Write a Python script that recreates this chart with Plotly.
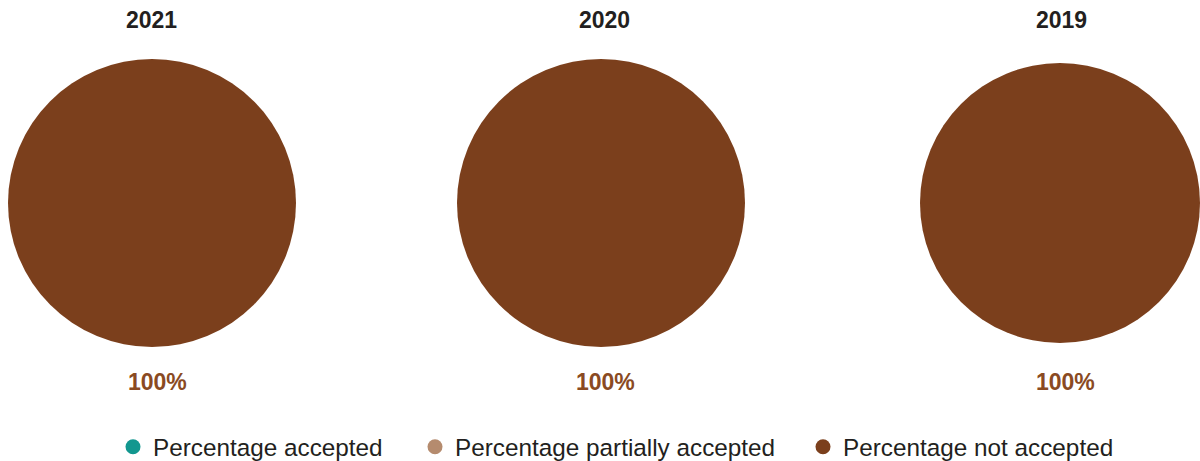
import plotly.graph_objects as go

# ---- data ----
years = ["2021", "2020", "2019"]
categories = ["Percentage accepted", "Percentage partially accepted", "Percentage not accepted"]
pct_accepted = [0, 0, 0]
pct_partially = [0, 0, 0]
pct_not_accepted = [100, 100, 100]

# ---- style / layout constants ----
W, H = 1200, 461
colors = ["#12978F", "#B58B6E", "#7B3F1C"]
label_color = "#8A4A22"
title_color = "#231F20"
FONT = "Liberation Sans, Arial, Helvetica, sans-serif"

pie_x_px = [(8, 296), (457, 745), (920, 1200)]
pie_y_px = (59, 347)
title_x_px = [151, 604, 1061]
label_x_px = [157, 605, 1065]
legend_x_px = [113, 415, 803]

fig = go.Figure()

for i, yr in enumerate(years):
    vals = [pct_accepted[i], pct_partially[i], pct_not_accepted[i]]
    x0, x1 = pie_x_px[i]
    fig.add_trace(go.Pie(
        labels=categories,
        values=vals,
        marker=dict(colors=colors, line=dict(width=0)),
        textinfo="none",
        hoverinfo="skip",
        sort=False,
        showlegend=False,
        domain=dict(x=[x0 / W, x1 / W], y=[1 - pie_y_px[1] / H, 1 - pie_y_px[0] / H]),
    ))
    fig.add_annotation(
        x=title_x_px[i] / W, y=1 - 20 / H, xref="paper", yref="paper",
        text=f"<b>{yr}</b>", showarrow=False, xanchor="center", yanchor="middle",
        font=dict(family=FONT, size=23, color=title_color),
    )
    # label the non-zero share(s)
    for v in vals:
        if v > 0:
            fig.add_annotation(
                x=label_x_px[i] / W, y=1 - 382 / H, xref="paper", yref="paper",
                text=f"<b>{v}%</b>", showarrow=False, xanchor="center", yanchor="middle",
                font=dict(family=FONT, size=23, color=label_color),
            )

legend_names = ["legend", "legend2", "legend3"]
for j, cat in enumerate(categories):
    fig.add_trace(go.Scatter(
        x=[None], y=[None], mode="markers", name=cat,
        marker=dict(symbol="circle", size=15, color=colors[j]),
        legend=legend_names[j], showlegend=True, hoverinfo="skip",
    ))

leg_common = dict(
    orientation="h", yanchor="middle", y=1 - 447 / H, xanchor="left",
    font=dict(family=FONT, size=24.3, color=title_color),
    bgcolor="rgba(0,0,0,0)", borderwidth=0,
)
fig.update_layout(
    width=W, height=H,
    margin=dict(l=0, r=0, t=0, b=0, autoexpand=False),
    paper_bgcolor="white", plot_bgcolor="white",
    xaxis=dict(visible=False), yaxis=dict(visible=False),
    legend=dict(x=legend_x_px[0] / W, **leg_common),
    legend2=dict(x=legend_x_px[1] / W, **leg_common),
    legend3=dict(x=legend_x_px[2] / W, **leg_common),
    font=dict(family=FONT),
)

fig.write_html("out.html")
